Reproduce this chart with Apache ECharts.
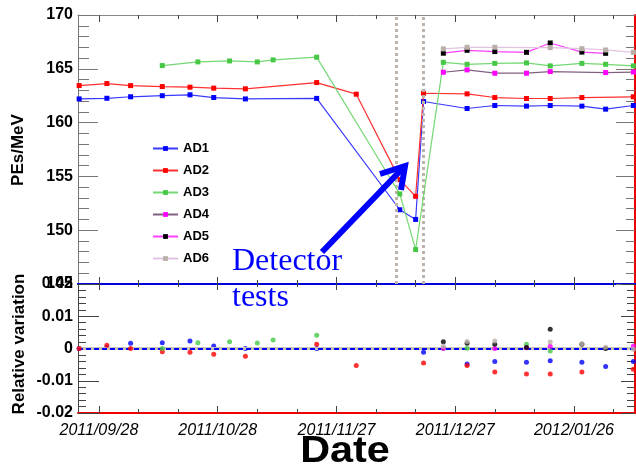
<!DOCTYPE html>
<html><head><meta charset="utf-8">
<script src="https://cdn.jsdelivr.net/npm/echarts@6/dist/echarts.min.js"></script>
<style>html,body{margin:0;padding:0;background:#fff}#c{width:636px;height:469px}</style>
</head><body><div id="c"></div>
<script>
// ---------- data ----------
const seriesNames = ['AD1','AD2','AD3','AD4','AD5','AD6'];

const ad1Dates = ['2011/09/23','2011/09/30','2011/10/06','2011/10/14','2011/10/21','2011/10/27','2011/11/04','2011/11/22','2011/12/13','2011/12/17','2011/12/19','2011/12/30','2012/01/06','2012/01/14','2012/01/20','2012/01/28','2012/02/03','2012/02/10'];
const ad1Values = [162.2,162.26,162.4,162.5,162.58,162.33,162.2,162.25,151.9,151.0,161.96,161.31,161.59,161.53,161.59,161.53,161.25,161.59];

const ad2Dates = ['2011/09/23','2011/09/30','2011/10/06','2011/10/14','2011/10/21','2011/10/27','2011/11/04','2011/11/22','2011/12/02','2011/12/13','2011/12/17','2011/12/19','2011/12/30','2012/01/06','2012/01/14','2012/01/20','2012/01/28','2012/02/10'];
const ad2Values = [163.44,163.63,163.44,163.35,163.29,163.2,163.14,163.72,162.64,154.7,153.15,162.73,162.67,162.33,162.24,162.24,162.33,162.4];

const ad3Dates = ['2011/10/14','2011/10/23','2011/10/31','2011/11/07','2011/11/11','2011/11/22','2011/12/13','2011/12/17','2011/12/24','2011/12/30','2012/01/06','2012/01/14','2012/01/20','2012/01/28','2012/02/03','2012/02/10'];
const ad3Values = [165.3,165.64,165.73,165.64,165.83,166.08,153.37,148.2,165.6,165.42,165.5,165.55,165.27,165.5,165.42,165.27];

const ad4Dates = ['2011/12/24','2011/12/30','2012/01/06','2012/01/14','2012/01/20','2012/02/03','2012/02/10'];
const ad4Values = [164.68,164.9,164.59,164.59,164.74,164.65,164.7];

const ad5Dates = ['2011/12/24','2011/12/30','2012/01/06','2012/01/14','2012/01/20','2012/01/28','2012/02/03'];
const ad5Values = [166.45,166.72,166.6,166.53,167.4,166.55,166.44];

const ad6Dates = ['2011/12/24','2011/12/30','2012/01/06','2012/01/20','2012/01/28','2012/02/03','2012/02/10'];
const ad6Values = [166.85,167.0,167.0,166.97,166.87,166.75,166.53];

// relative variation (lower pad)
const ad1RelDates = ['2011/09/23','2011/09/30','2011/10/06','2011/10/14','2011/10/21','2011/10/27','2011/11/04','2011/11/22','2011/12/19','2011/12/30','2012/01/06','2012/01/14','2012/01/20','2012/01/28','2012/02/03','2012/02/10'];
const ad1RelValues = [0,0.0003,0.0016,0.0018,0.0023,0.0008,0,0,-0.0012,-0.0048,-0.004,-0.0043,-0.0038,-0.0043,-0.0056,-0.004];

const ad2RelDates = ['2011/09/23','2011/09/30','2011/10/06','2011/10/14','2011/10/21','2011/10/27','2011/11/04','2011/11/22','2011/12/02','2011/12/19','2011/12/30','2012/01/06','2012/01/14','2012/01/20','2012/01/28','2012/02/10'];
const ad2RelValues = [0,0.001,0,-0.001,-0.0012,-0.0018,-0.0024,0.0013,-0.0053,-0.0045,-0.0053,-0.0073,-0.0079,-0.0079,-0.0073,-0.0064];

const ad3RelDates = ['2011/10/14','2011/10/23','2011/10/31','2011/11/07','2011/11/11','2011/11/22','2011/12/24','2011/12/30','2012/01/14','2012/01/20'];
const ad3RelValues = [0,0.0018,0.0021,0.0017,0.0026,0.0041,0,0.0001,0.0013,-0.0008];

const ad4RelDates = ['2011/12/24','2012/01/06','2012/01/14','2012/01/20','2012/02/10'];
const ad4RelValues = [0,0,0.0002,0.0007,0.0008];

const ad5RelDates = ['2011/12/24','2011/12/30','2012/01/06','2012/01/14','2012/01/20','2012/01/28','2012/02/03'];
const ad5RelValues = [0.0021,0.0016,0.0013,0.0003,0.006,0.0013,0];

const ad6RelDates = ['2011/12/24','2011/12/30','2012/01/06','2012/01/20','2012/01/28','2012/02/03','2012/02/10'];
const ad6RelValues = [0.0007,0.0022,0.0023,0.002,0.0015,0.0004,-0.0002];

// axis ticks
const majorTickDates = ['2011/09/28','2011/10/28','2011/11/27','2011/12/27','2012/01/26'];
const minorTickDates = ['2011/10/08','2011/10/18','2011/11/07','2011/11/17','2011/12/07','2011/12/17','2012/01/06','2012/01/16','2012/02/05'];
const testWindowDates = ['2011/12/12','2011/12/19'];
const xStartDate = '2011/09/22 17:00';
const xEndDate = '2012/02/10 10:00';

// ---------- helpers ----------
const BASE = Date.UTC(2011, 8, 28);
function dayOf(s) {
  const [d, t] = s.split(' ');
  const [y, m, dd] = d.split('/').map(Number);
  let h = 0;
  if (t) h = Number(t.split(':')[0]);
  return (Date.UTC(y, m - 1, dd, h) - BASE) / 86400000;
}
function pad(n) { return (n < 10 ? '0' : '') + n; }
function fmtDay(v) {
  const dt = new Date(BASE + Math.round(v) * 86400000);
  return dt.getUTCFullYear() + '/' + pad(dt.getUTCMonth() + 1) + '/' + pad(dt.getUTCDate());
}
function pairs(dates, vals) { return dates.map((d, i) => [dayOf(d), vals[i]]); }

const X_MIN = dayOf(xStartDate), X_MAX = dayOf(xEndDate);
const majorTicks = majorTickDates.map(dayOf);
const minorTicks = minorTickDates.map(dayOf);

const FONT = '"Liberation Sans", Arial, Helvetica, sans-serif';
const lineColors = ['#3a3aff', '#ff3030', '#74d874', '#806080', '#ff40ff', '#e2c4e2'];
const markColors = ['#0000ff', '#ff0000', '#46c846', '#ff00ff', '#000000', '#b8b0a8'];

function xAx(grid, pos, ticks, len, lineColor, lineWidth, showLabels, showLine) {
  return {
    type: 'value', gridIndex: grid, position: pos, min: X_MIN, max: X_MAX,
    axisLine: { show: showLine, onZero: false, lineStyle: { color: lineColor, width: lineWidth } },
    axisTick: { show: true, inside: true, length: len, customValues: ticks, lineStyle: { color: '#444', width: 1 } },
    axisLabel: showLabels ? {
      show: true, customValues: ticks, formatter: fmtDay, margin: 10,
      fontFamily: FONT, fontSize: 16, fontStyle: 'italic', color: '#000'
    } : { show: false },
    splitLine: { show: false }
  };
}

const xAxes = [
  xAx(0, 'bottom', majorTicks, 7, '#0000dd', 2, false, true),
  xAx(0, 'bottom', minorTicks, 4, '#0000dd', 2, false, false),
  xAx(0, 'top', majorTicks, 7, '#888', 1, false, true),
  xAx(0, 'top', minorTicks, 4, '#888', 1, false, false),
  xAx(1, 'bottom', majorTicks, 7, '#ee0000', 2, true, true),
  xAx(1, 'bottom', minorTicks, 4, '#ee0000', 2, false, false),
  xAx(1, 'top', majorTicks, 6, '#0000dd', 2, false, true),
  xAx(1, 'top', minorTicks, 3, '#0000dd', 2, false, false)
];

const yLabel = { show: true, fontFamily: FONT, fontWeight: 'bold', fontSize: 16, color: '#000', margin: 5 };
const yAxes = [
  { type: 'value', gridIndex: 0, position: 'left', min: 145, max: 170, interval: 5,
    axisLine: { show: true, onZero: false, lineStyle: { color: '#777', width: 1 } },
    axisTick: { show: true, inside: true, length: 20, lineStyle: { color: '#777' } },
    minorTick: { show: true, splitNumber: 5, length: 11, lineStyle: { color: '#777' } },
    axisLabel: yLabel, splitLine: { show: false } },
  { type: 'value', gridIndex: 0, position: 'right', min: 145, max: 170, interval: 5,
    axisLine: { show: true, onZero: false, lineStyle: { color: '#ee0000', width: 2 } },
    axisTick: { show: true, inside: true, length: 19, lineStyle: { color: '#777' } },
    minorTick: { show: true, splitNumber: 5, length: 9, lineStyle: { color: '#777' } },
    axisLabel: { show: false }, splitLine: { show: false } },
  { type: 'value', gridIndex: 1, position: 'left', min: -0.02, max: 0.02, interval: 0.01,
    axisLine: { show: true, onZero: false, lineStyle: { color: '#444', width: 1 } },
    axisTick: { show: true, inside: true, length: 21, lineStyle: { color: '#444' } },
    minorTick: { show: true, splitNumber: 5, length: 8, lineStyle: { color: '#444' } },
    axisLabel: Object.assign({}, yLabel, { formatter: v => Math.abs(v) < 1e-9 ? '0' : v.toFixed(2) }),
    splitLine: { show: false } },
  { type: 'value', gridIndex: 1, position: 'right', min: -0.02, max: 0.02, interval: 0.01,
    axisLine: { show: true, onZero: false, lineStyle: { color: '#ee0000', width: 2 } },
    axisTick: { show: true, inside: true, length: 14, lineStyle: { color: '#444' } },
    minorTick: { show: true, splitNumber: 5, length: 8, lineStyle: { color: '#444' } },
    axisLabel: { show: false }, splitLine: { show: false } }
];

const topDates = [ad1Dates, ad2Dates, ad3Dates, ad4Dates, ad5Dates, ad6Dates];
const topVals = [ad1Values, ad2Values, ad3Values, ad4Values, ad5Values, ad6Values];
const relDates = [ad1RelDates, ad2RelDates, ad3RelDates, ad4RelDates, ad5RelDates, ad6RelDates];
const relVals = [ad1RelValues, ad2RelValues, ad3RelValues, ad4RelValues, ad5RelValues, ad6RelValues];

const series = [];
seriesNames.forEach((n, i) => {
  series.push({
    name: n, type: 'line', xAxisIndex: 0, yAxisIndex: 0,
    data: pairs(topDates[i], topVals[i]),
    symbol: 'rect', symbolSize: 5, showSymbol: true,
    lineStyle: { color: lineColors[i], width: 1.2 },
    itemStyle: { color: markColors[i] },
    z: 3 + i
  });
});
// test window markers
series.push({
  name: 'testWindow', type: 'line', xAxisIndex: 0, yAxisIndex: 0, data: [], silent: true,
  markLine: {
    silent: true, symbol: 'none', label: { show: false },
    lineStyle: { color: '#bdb3aa', width: 3, type: [3, 3] },
    data: testWindowDates.map(d => ({ xAxis: dayOf(d) }))
  }, z: 2
});
// zero reference lines in lower pad
series.push({
  name: 'zeroRef', type: 'line', xAxisIndex: 4, yAxisIndex: 2, data: [], silent: true,
  markLine: {
    silent: true, symbol: 'none', label: { show: false },
    data: [
      { yAxis: 0, lineStyle: { color: '#c8c0b8', width: 3, type: 'solid' } },
      { yAxis: 0, lineStyle: { color: '#0000ff', width: 2, type: [5, 3] } }
    ]
  }, z: 2
});
seriesNames.forEach((n, i) => {
  series.push({
    name: n + ' rel', type: 'scatter', xAxisIndex: 4, yAxisIndex: 2,
    data: pairs(relDates[i], relVals[i]),
    symbol: 'circle', symbolSize: 5,
    itemStyle: { color: markColors[i] }, z: 4 + i
  });
});

const chart = echarts.init(document.getElementById('c'), null, { renderer: 'canvas' });
chart.setOption({
  animation: false,
  backgroundColor: '#fff',
  grid: [
    { left: 78, top: 15, right: 1, height: 269 },
    { left: 78, top: 284, right: 1, height: 129 }
  ],
  xAxis: xAxes,
  yAxis: yAxes,
  legend: {
    data: seriesNames, orient: 'vertical', left: 147, top: 137,
    itemWidth: 25, itemHeight: 6, itemGap: 9,
    textStyle: { fontFamily: FONT, fontWeight: 'bold', fontSize: 13, color: '#000' }
  },
  series: series,
  graphic: [
    { type: 'text', x: 18, y: 150, rotation: Math.PI / 2,
      style: { text: 'PEs/MeV', font: 'bold 17px ' + FONT, fill: '#000', align: 'center', verticalAlign: 'middle' } },
    { type: 'text', x: 19, y: 344, rotation: Math.PI / 2,
      style: { text: 'Relative variation', font: 'bold 17px ' + FONT, fill: '#000', align: 'center', verticalAlign: 'middle' } },
    { type: 'text', x: 345, y: 452, scaleX: 1.15,
      style: { text: 'Date', font: 'bold 36px ' + FONT, fill: '#000', align: 'center', verticalAlign: 'middle' } },
    { type: 'text', x: 232, y: 262, z: 50,
      style: { text: 'Detector', font: '32px "Liberation Serif", "Times New Roman", serif', fill: '#0000ff', align: 'left', verticalAlign: 'middle' } },
    { type: 'text', x: 232, y: 298, z: 50,
      style: { text: 'tests', font: '32px "Liberation Serif", "Times New Roman", serif', fill: '#0000ff', align: 'left', verticalAlign: 'middle' } },
    { type: 'line', z: 60, shape: { x1: 322, y1: 252, x2: 402, y2: 169 },
      style: { stroke: '#0000ff', lineWidth: 6, lineCap: 'butt' } },
    { type: 'polyline', z: 60, shape: { points: [[380, 174], [405, 166], [401, 190]] },
      style: { stroke: '#0000ff', lineWidth: 6, fill: null, lineJoin: 'miter' } }
  ]
});
</script></body></html>
